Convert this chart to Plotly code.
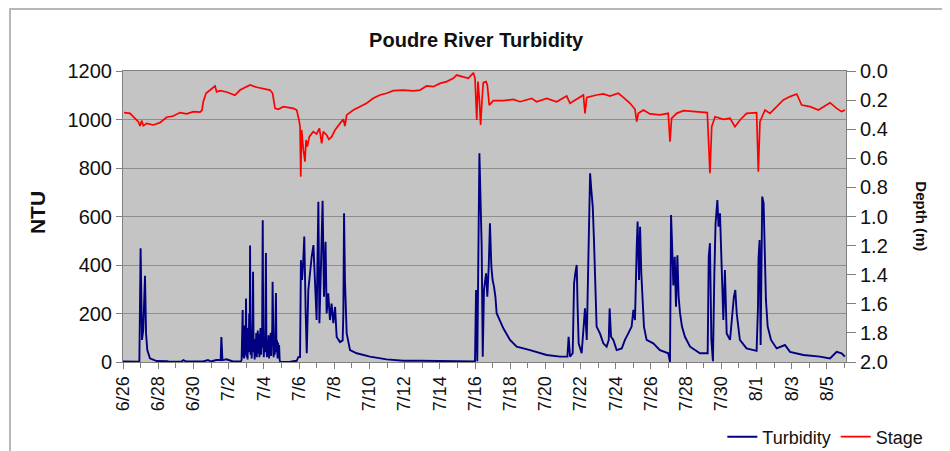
import pandas as pd
import plotly.graph_objects as go

# ---- data (days since 6/26) ----
turb_day = [0.00, 0.50, 0.93, 1.00, 1.04, 1.08, 1.15, 1.25, 1.31, 1.38, 1.53, 1.91, 2.50, 2.60,
            3.33, 3.43, 3.60, 4.55, 4.83, 5.00, 5.30, 5.55, 5.59, 5.65, 5.88, 6.05, 6.25, 6.60,
            6.70, 6.74, 6.77, 6.80, 6.82, 6.85, 6.88, 6.91, 6.94, 6.97, 6.99, 7.02, 7.05, 7.08,
            7.11, 7.14, 7.17, 7.20, 7.22, 7.25, 7.28, 7.31, 7.34, 7.37, 7.39, 7.42, 7.45, 7.48,
            7.51, 7.54, 7.57, 7.60, 7.63, 7.66, 7.69, 7.72, 7.75, 7.78, 7.81, 7.84, 7.87, 7.90,
            7.94, 7.97, 8.00, 8.03, 8.06, 8.09, 8.12, 8.15, 8.18, 8.21, 8.24, 8.27, 8.30, 8.33,
            8.36, 8.39, 8.42, 8.45, 8.48, 8.50, 8.53, 8.56, 8.59, 8.62, 8.65, 8.68, 8.69, 8.72,
            8.75, 8.78, 8.81, 8.84, 8.87, 8.90, 8.93, 9.50,
            9.87, 9.96, 10.06, 10.11, 10.17, 10.23, 10.30, 10.38, 10.44, 10.53, 10.63, 10.72,
            10.82, 10.87, 10.95, 11.00, 11.10, 11.16, 11.25, 11.34, 11.42, 11.51, 11.57, 11.66,
            11.76, 11.85, 11.95, 12.05, 12.14, 12.33, 12.48, 12.52, 12.56, 12.61, 12.71, 12.90,
            13.28, 14.03, 14.98, 15.93, 16.88, 18.77, 20.00,
            20.06, 20.13, 20.25, 20.32, 20.38, 20.44, 20.51, 20.63, 20.70, 20.78, 20.85, 20.93,
            21.00, 21.08, 21.16, 21.23, 21.61, 21.99, 22.37, 23.13, 24.07, 24.83, 25.25, 25.32,
            25.40, 25.55, 25.63, 25.70, 25.78, 25.83, 25.89, 26.06, 26.25, 26.35, 26.44, 26.54,
            26.61, 26.69, 26.76, 26.84, 26.91, 27.10, 27.29, 27.48, 27.60, 27.65, 27.73, 27.86,
            28.05, 28.34, 28.52, 28.71, 28.90, 29.00, 29.09, 29.19, 29.24, 29.32, 29.38, 29.45,
            29.53, 29.60, 29.75, 30.13, 30.51, 30.98, 31.08, 31.14, 31.19, 31.27, 31.35, 31.42,
            31.50, 31.57, 31.65, 31.76, 31.93, 32.22, 32.78, 33.22, 33.28, 33.35, 33.43, 33.52,
            33.60, 33.67, 33.77, 33.84, 33.92, 34.01, 34.11, 34.20, 34.30, 34.49, 34.64, 34.71,
            34.79, 34.87, 35.05, 35.43, 36.00, 36.08, 36.11, 36.17, 36.23, 36.32, 36.40, 36.46,
            36.53, 36.63, 36.82, 37.14, 37.61, 37.90, 38.66, 39.60, 40.17, 40.55, 40.83, 41.02]
turb_ntu = [2, 2, 1, 469, 120, 91, 132, 356, 118, 49, 15, 4, 3, 1,
            2, 8, 2, 2, 8, 2, 8, 8, 103, 8, 11, 8, 2, 2,
            2, 10, 120, 214, 20, 90, 15, 150, 30, 100, 262, 20, 85, 10,
            140, 40, 200, 60, 480, 30, 110, 15, 90, 180, 372, 40, 70, 10,
            95, 25, 120, 20, 80, 130, 35, 115, 20, 90, 140, 30, 110, 60,
            585, 80, 20, 100, 40, 150, 449, 60, 20, 90, 30, 110, 15, 80,
            40, 120, 25, 90, 140, 331, 50, 20, 100, 30, 80, 200, 284, 40,
            90, 15, 80, 20, 70, 10, 0, 1,
            5, 20, 20, 420, 338, 400, 517, 200, 36, 297, 379, 434,
            482, 393, 269, 173, 661, 160, 400, 665, 269, 496, 200, 283,
            173, 241, 160, 227, 103, 82, 89, 200, 613, 338, 118, 49,
            36, 22, 11, 5, 5, 4, 2,
            297, 3, 861, 613, 476, 22, 297, 366, 269, 393, 572, 393,
            338, 311, 269, 201, 139, 91, 63, 49, 29, 22, 22, 104,
            22, 36, 324, 366, 400, 228, 77, 36, 221, 91, 503, 778,
            709, 641, 503, 256, 146, 118, 77, 63, 91, 221, 104, 91,
            49, 56, 91, 118, 146, 215, 173, 476, 579, 338, 558, 366,
            256, 146, 91, 77, 49, 36, 0, 606, 503, 316, 434, 228,
            440, 269, 201, 146, 104, 63, 36, 36, 434, 490, 91, 3,
            366, 572, 668, 558, 613, 393, 173, 379, 118, 91, 215, 269,
            297, 201, 91, 56, 46, 228, 428, 503, 70, 682, 654, 448,
            256, 146, 91, 56, 70, 42, 29, 22, 15, 42, 36, 22]

stage_day = [0.06, 0.40, 0.68, 0.87, 0.97, 1.06, 1.16, 1.35, 1.72, 2.10, 2.48, 2.86, 3.24, 3.62,
             4.00, 4.38, 4.49, 4.56, 4.72, 4.94, 5.23, 5.32, 5.51, 5.89, 6.36, 6.65, 7.22, 7.60,
             7.97, 8.35, 8.50, 8.64, 8.83, 9.11, 9.68, 9.87, 10.00, 10.06, 10.10, 10.15, 10.25,
             10.34, 10.40, 10.47, 10.59, 10.81, 11.00, 11.16, 11.29, 11.38, 11.57, 11.70, 11.86,
             12.05, 12.33, 12.52, 12.61, 12.71, 13.09, 13.47, 13.84, 14.22, 14.60, 14.98, 15.36,
             15.93, 16.50, 16.88, 17.25, 17.63, 18.01, 18.39, 18.77, 18.96, 19.34, 19.62, 19.91,
             20.00, 20.10, 20.17, 20.25, 20.32, 20.40, 20.47, 20.63, 20.70, 20.81, 21.04, 21.61,
             22.18, 22.56, 23.22, 23.50, 24.07, 24.64, 25.21, 25.40, 26.16, 26.25, 26.35, 26.91,
             27.29, 27.67, 28.14, 28.43, 28.81, 29.09, 29.19, 29.28, 29.57, 29.94, 30.51, 30.98,
             31.08, 31.17, 31.46, 31.84, 32.60, 33.20, 33.35, 33.45, 33.64, 34.11, 34.49, 34.77,
             35.06, 35.43, 36.00, 36.10, 36.19, 36.48, 36.76, 37.52, 37.90, 38.28, 38.56, 39.04,
             39.51, 39.80, 40.17, 40.55, 40.83, 41.02]
stage_m = [0.286, 0.291, 0.325, 0.348, 0.378, 0.341, 0.376, 0.360, 0.371, 0.355, 0.318, 0.309, 0.286, 0.295,
           0.279, 0.282, 0.268, 0.211, 0.153, 0.131, 0.103, 0.144, 0.135, 0.144, 0.167, 0.131, 0.096, 0.112,
           0.121, 0.131, 0.153, 0.257, 0.263, 0.245, 0.257, 0.268, 0.337, 0.383, 0.726, 0.405, 0.543,
           0.623, 0.474, 0.520, 0.451, 0.417, 0.433, 0.394, 0.497, 0.417, 0.440, 0.470, 0.451,
           0.405, 0.360, 0.332, 0.378, 0.302, 0.268, 0.245, 0.222, 0.188, 0.165, 0.153, 0.135,
           0.131, 0.137, 0.131, 0.103, 0.108, 0.085, 0.073, 0.050, 0.028, 0.039, 0.050, 0.012,
           0.050, 0.337, 0.073, 0.199, 0.371, 0.199, 0.080, 0.073, 0.096, 0.234, 0.204, 0.204,
           0.195, 0.211, 0.188, 0.211, 0.188, 0.211, 0.172, 0.222, 0.165, 0.291, 0.181, 0.165,
           0.158, 0.172, 0.153, 0.181, 0.222, 0.263, 0.348, 0.291, 0.268, 0.295, 0.302, 0.291,
           0.486, 0.325, 0.291, 0.273, 0.279, 0.286, 0.703, 0.383, 0.314, 0.332, 0.325, 0.383,
           0.337, 0.291, 0.286, 0.692, 0.348, 0.268, 0.291, 0.199, 0.176, 0.158, 0.234, 0.245,
           0.268, 0.245, 0.218, 0.257, 0.279, 0.268]

start_date = "2007-06-26"
x_range_days = [0.0, 41.08]
title_text = "Poudre River Turbidity"

base = pd.Timestamp(start_date)
def to_dates(days):
    return base + pd.to_timedelta(pd.Series(days), unit="D")

FONT = "Arial, Liberation Sans, sans-serif"
fig = go.Figure()
fig.add_trace(go.Scatter(x=to_dates(turb_day), y=turb_ntu, mode="lines", name="Turbidity",
                         line=dict(color="#000080", width=1.9)))
fig.add_trace(go.Scatter(x=to_dates(stage_day), y=stage_m, mode="lines", name="Stage",
                         yaxis="y2", line=dict(color="#FF0000", width=1.7)))

# the page body has an 8px default margin, so the figure is 8px smaller and offset
fig.update_layout(
    width=942, height=443,
    margin=dict(l=115, r=104, t=63, b=89, autoexpand=False),
    paper_bgcolor="white", plot_bgcolor="#C4C4C4",
    font=dict(family=FONT, color="#111111"),
    title=dict(text="<b>%s</b>" % title_text, x=0.497, xanchor="center", y=0.928, yanchor="middle",
               font=dict(size=20, family=FONT, color="#111111")),
    xaxis=dict(type="date", automargin=False,
               range=[base + pd.Timedelta(days=x_range_days[0]), base + pd.Timedelta(days=x_range_days[1])],
               tick0=base, dtick=2 * 86400000, tickformat="%-m/%-d", tickangle=-90,
               ticks="outside", ticklen=6, tickcolor="#808080",
               minor=dict(dtick=86400000, ticks="outside", ticklen=5, tickcolor="#808080", showgrid=False),
               showgrid=False, showline=True, linecolor="#808080", mirror=True,
               tickfont=dict(size=18), zeroline=False),
    yaxis=dict(range=[0, 1200], dtick=200, ticks="outside", ticklen=6, tickcolor="#808080",
               automargin=False,
               showgrid=True, gridcolor="#8E8E8E", gridwidth=1,
               showline=True, linecolor="#808080", mirror=True, zeroline=False,
               tickfont=dict(size=20)),
    yaxis2=dict(range=[2.0, 0.0], dtick=0.2, tickformat=".1f", overlaying="y", side="right",
                automargin=False,
                ticks="outside", ticklen=9, tickcolor="#808080", showgrid=False, zeroline=False,
                tickfont=dict(size=20)),
    legend=dict(orientation="h", xref="container", yref="container", x=0.977, xanchor="right",
                y=0.0316, yanchor="middle",
                bgcolor="rgba(0,0,0,0)", font=dict(size=18), itemwidth=30),
    showlegend=True,
)

fig.add_annotation(text="<b>NTU</b>", xref="paper", yref="paper", x=-0.119, y=0.515,
                   xanchor="center", yanchor="middle",
                   textangle=-90, showarrow=False, font=dict(size=21, family=FONT, color="#111111"))
fig.add_annotation(text="<b>Depth (m)</b>", xref="paper", yref="paper", x=1.104, y=0.50,
                   xanchor="center", yanchor="middle",
                   textangle=90, showarrow=False, font=dict(size=15, family=FONT, color="#111111"))
fig.add_shape(type="rect", xref="paper", yref="paper", x0=-0.1563, x1=1.137, y0=-0.32, y1=1.213,
              line=dict(color="#A0A0A0", width=1.5), layer="below")

fig.write_html("out.html")
